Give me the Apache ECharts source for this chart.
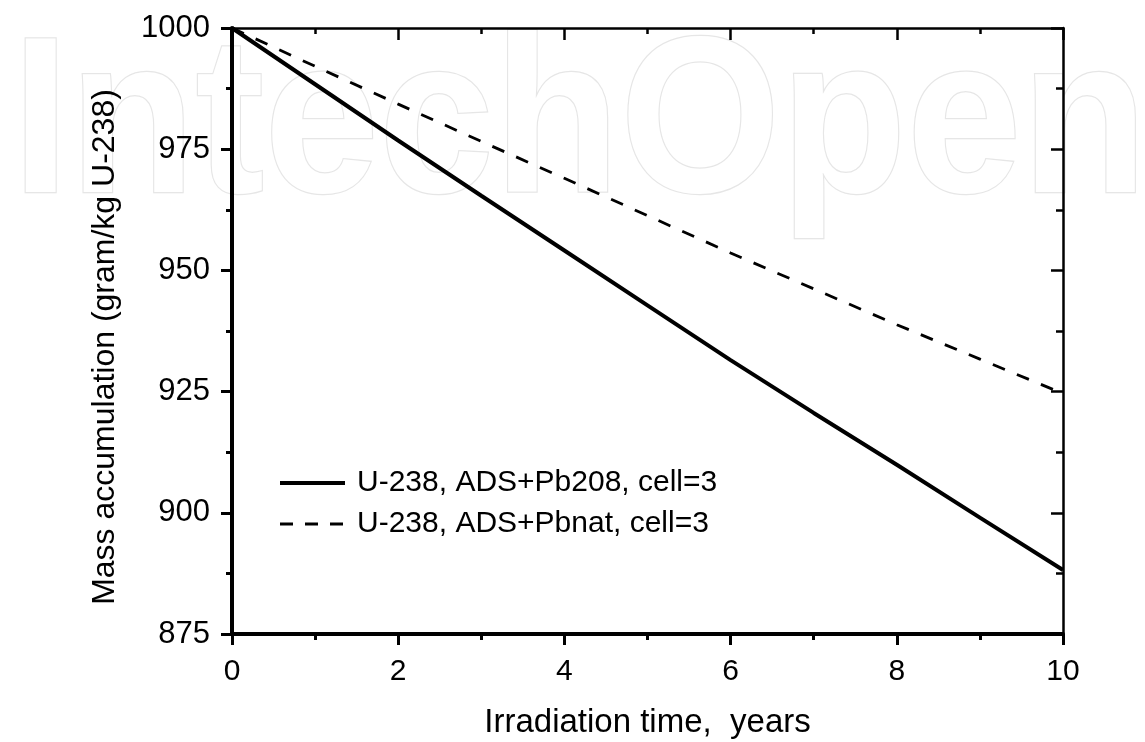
<!DOCTYPE html>
<html>
<head>
<meta charset="utf-8">
<script src="https://cdn.jsdelivr.net/npm/echarts@6/dist/echarts.min.js"></script>
<style>html,body{margin:0;padding:0;background:#fff;}#c{width:1145px;height:742px;}</style>
</head>
<body>
<div id="c"></div>
<script>
var years = [0, 1, 2, 3, 4, 5, 6, 7, 8, 9, 10];
var pb208 = [1000, 988.4, 976.8, 965.4, 954.1, 942.8, 931.5, 920.6, 909.9, 899.0, 888.2];
var pbnat = [1000, 992.1, 984.3, 976.6, 969.0, 961.3, 953.6, 946.2, 938.8, 931.7, 924.6];
var seriesNames = ['U-238, ADS+Pb208, cell=3', 'U-238, ADS+Pbnat, cell=3'];
var xTitle = 'Irradiation time,  years';
var yTitle = 'Mass accumulation (gram/kg U-238)';
var watermark = 'IntechOpen';

var FONT = "'Liberation Sans', Arial, Helvetica, sans-serif";
function pairs(xs, ys) { return xs.map(function (x, i) { return [x, ys[i]]; }); }
function plain(v) { return String(v); }

var chart = echarts.init(document.getElementById('c'), null, { renderer: 'canvas' });
var blackLine = function (w) { return { show: true, onZero: false, lineStyle: { color: '#000', width: w } }; };
chart.setOption({
  backgroundColor: '#fff',
  animation: false,
  graphic: [{
    type: 'text', x: 12, y: 20, scaleX: 0.93, z: -10, silent: true,
    style: { text: watermark, font: 'bold 222px ' + FONT, fill: '#fff', stroke: '#e6e6e6', lineWidth: 2.5 }
  }],
  grid: { left: 232, right: 82, top: 28, bottom: 108, containLabel: false, outerBoundsMode: 'none' },
  legend: {
    orient: 'vertical', left: 278, top: 468, padding: 0, itemWidth: 65, itemHeight: 14, itemGap: 11,
    textStyle: { fontFamily: FONT, fontSize: 30, color: '#000', lineHeight: 30, padding: [0, 0, 0, 7] },
    itemStyle: { opacity: 0, borderWidth: 0 },
    data: [
      { name: seriesNames[0], lineStyle: { color: '#000', width: 4, type: 'solid' } },
      { name: seriesNames[1], lineStyle: { color: '#000', width: 3, type: [13, 12] } }
    ]
  },
  xAxis: [{
    type: 'value', min: 0, max: 10, interval: 2, position: 'bottom',
    name: xTitle, nameLocation: 'middle', nameGap: 72,
    nameTextStyle: { fontFamily: FONT, fontSize: 33, color: '#000' },
    axisLine: blackLine(4),
    axisTick: { show: true, inside: false, length: 11, lineStyle: { color: '#000', width: 3 } },
    minorTick: { show: true, splitNumber: 2, length: 6, lineStyle: { color: '#000', width: 3 } },
    axisLabel: { fontFamily: FONT, fontSize: 30, color: '#000', margin: 23, formatter: plain },
    splitLine: { show: false }
  }, {
    type: 'value', min: 0, max: 10, interval: 2, position: 'top',
    axisLine: blackLine(2.5),
    axisTick: { show: true, inside: true, length: 12, lineStyle: { color: '#000', width: 2.5 } },
    minorTick: { show: true, splitNumber: 2, length: 6, lineStyle: { color: '#000', width: 2.5 } },
    axisLabel: { show: false }, splitLine: { show: false }
  }],
  yAxis: [{
    type: 'value', min: 875, max: 1000, interval: 25, position: 'left',
    name: yTitle, nameLocation: 'middle', nameGap: 111, nameRotate: 90,
    nameTextStyle: { fontFamily: FONT, fontSize: 32, color: '#000', padding: [0, 32, 0, 0] },
    axisLine: blackLine(4),
    axisTick: { show: true, inside: false, length: 11, lineStyle: { color: '#000', width: 3 } },
    minorTick: { show: true, splitNumber: 2, length: 6, lineStyle: { color: '#000', width: 3 } },
    axisLabel: { fontFamily: FONT, fontSize: 31, color: '#000', margin: 22, formatter: plain },
    splitLine: { show: false }
  }, {
    type: 'value', min: 875, max: 1000, interval: 25, position: 'right',
    axisLine: blackLine(2.5),
    axisTick: { show: true, inside: true, length: 12, lineStyle: { color: '#000', width: 2.5 } },
    minorTick: { show: true, splitNumber: 2, length: 7, lineStyle: { color: '#000', width: 2.5 } },
    axisLabel: { show: false }, splitLine: { show: false }
  }],
  series: [{
    name: seriesNames[0], type: 'line', xAxisIndex: 0, yAxisIndex: 0,
    data: pairs(years, pb208), showSymbol: false, symbol: 'none', smooth: false,
    lineStyle: { color: '#000', width: 4, type: 'solid' }, itemStyle: { color: '#000' }, z: 5
  }, {
    name: seriesNames[1], type: 'line', xAxisIndex: 0, yAxisIndex: 0,
    data: pairs(years, pbnat), showSymbol: false, symbol: 'none', smooth: false,
    lineStyle: { color: '#000', width: 2.8, type: [13, 13] }, itemStyle: { color: '#000' }, z: 5
  }]
});
</script>
</body>
</html>
